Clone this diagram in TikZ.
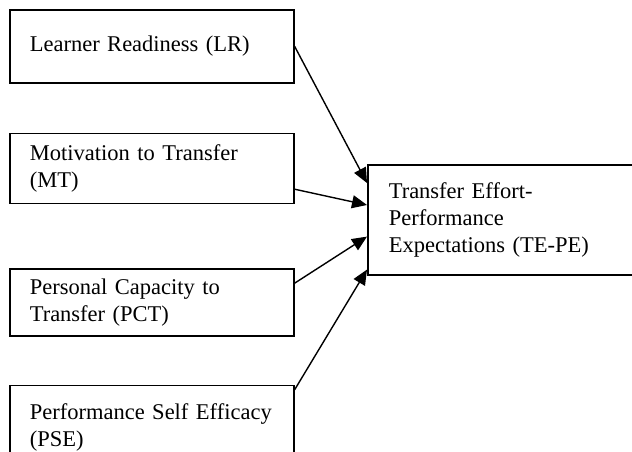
\documentclass[tikz,border=0pt]{standalone}
\usepackage{fontspec}
\setmainfont{Liberation Serif}
\usetikzlibrary{arrows.meta,positioning}

\begin{document}
\begin{tikzpicture}[x=1pt,y=-1pt,font=\fontsize{22.5}{27}\selectfont,
  fac/.style={draw,line width=1.6pt,text width=244pt,inner xsep=20pt,align=left},
  arr/.style={-{Triangle[length=15pt,width=13pt]},line width=1.4pt}]
\useasboundingbox (0,0) rectangle (632,452);
\clip (0,0) rectangle (632,452);
\node[fac,anchor=north west,minimum height=73pt] (lr) at (9,9) {Learner Readiness (LR)};
\node[fac,below=49pt of lr,minimum height=70pt] (mt) {Motivation to Transfer\\(MT)};
\node[fac,below=64pt of mt,minimum height=67pt] (pct) {Personal Capacity to\\Transfer (PCT)};
\node[fac,below=48pt of pct,minimum height=84pt] (pse) {Performance Self Efficacy\\(PSE)};
\node[fac,anchor=north west,text width=240pt,inner xsep=21pt,minimum height=110pt] (tepe) at (367,164)
  {Transfer Effort-\\Performance\\Expectations (TE-PE)};
\draw[arr] (lr.east) -- ([yshift=-19pt]tepe.north west);
\draw[arr] ([yshift=15pt]mt.south east) -- ([yshift=-41pt]tepe.north west);
\draw[arr] ([yshift=-15pt]pct.north east) -- ([yshift=39pt]tepe.south west);
\draw[arr] ([yshift=-5pt]pse.north east) -- ([yshift=6pt]tepe.south west);
\end{tikzpicture}
\end{document}
